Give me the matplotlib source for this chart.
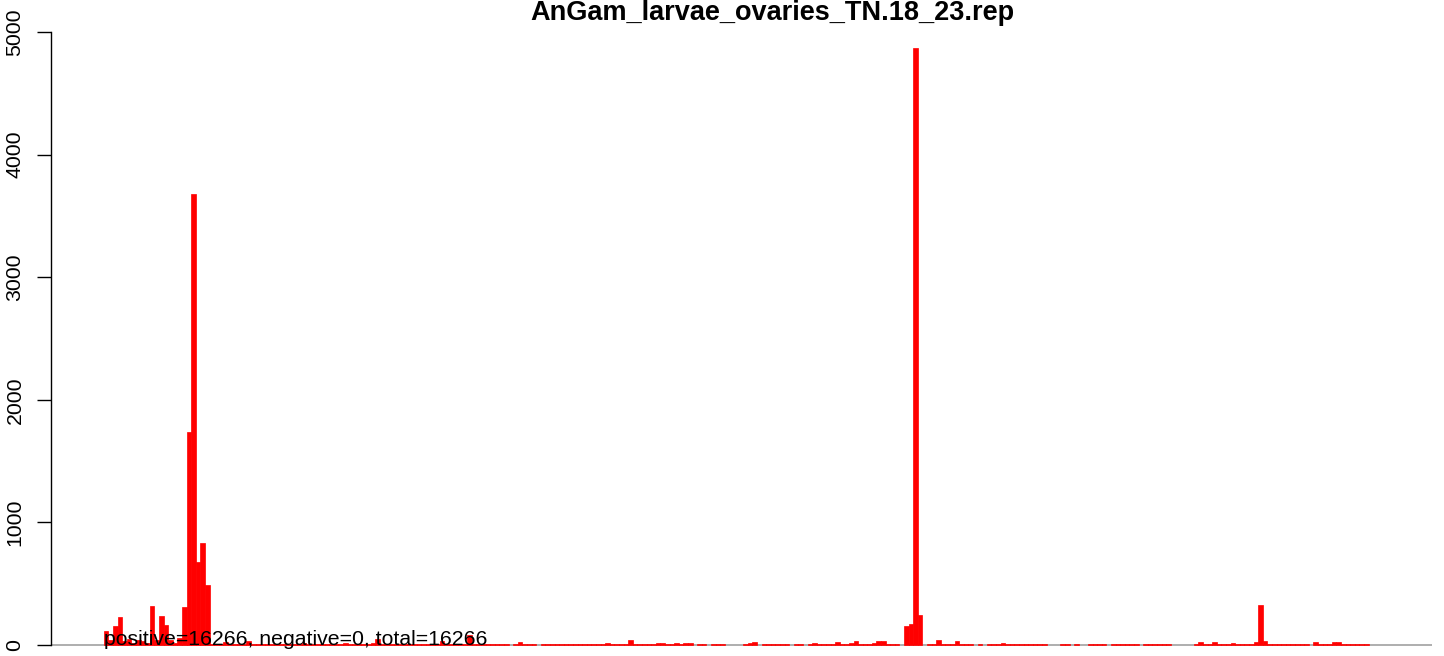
import matplotlib
matplotlib.use("Agg")
import matplotlib.pyplot as plt

plt.rcParams['font.family'] = ['Liberation Sans', 'DejaVu Sans']

title = "AnGam_larvae_ovaries_TN.18_23.rep"
note = "positive=16266, negative=0, total=16266"

# counts per bin (0 = empty bin, baseline shows grey)
counts = [
    115, 40, 155, 228, 30, 50, 20, 40, 30, 20, 318, 40, 237, 163, 40, 20, 60, 310, 1740, 3680,
    675, 830, 490, 10, 10, 10, 25, 10, 10, 10, 10, 35, 10, 10, 10, 10, 10, 10, 10, 10,
    10, 10, 10, 15, 10, 10, 10, 10, 10, 10, 10, 10, 20, 10, 10, 10, 10, 10, 20, 45,
    10, 10, 10, 10, 10, 10, 10, 10, 10, 10, 10, 10, 10, 30, 10, 10, 10, 10, 10, 80,
    10, 10, 10, 10, 10, 10, 10, 10, 0, 10, 27, 10, 10, 10, 0, 10, 10, 10, 10, 10,
    10, 10, 10, 10, 10, 10, 10, 10, 10, 20, 10, 10, 10, 10, 40, 10, 10, 10, 10, 10,
    18, 18, 10, 10, 18, 10, 18, 18, 0, 10, 10, 0, 10, 10, 10, 0, 0, 0, 0, 10,
    19, 27, 0, 10, 10, 10, 10, 10, 10, 0, 10, 10, 0, 10, 19, 10, 10, 10, 10, 27,
    10, 10, 19, 35, 10, 10, 10, 19, 35, 35, 10, 10, 10, 0, 158, 172, 4870, 246, 0, 10,
    10, 43, 10, 10, 10, 34, 10, 10, 10, 0, 10, 0, 10, 10, 10, 17, 10, 10, 10, 10,
    10, 10, 10, 10, 10, 0, 0, 0, 10, 10, 0, 10, 0, 0, 10, 10, 10, 10, 0, 10,
    10, 10, 10, 10, 10, 0, 10, 10, 10, 10, 10, 10, 0, 0, 0, 0, 0, 10, 25, 10,
    10, 25, 10, 10, 10, 17, 10, 10, 10, 10, 25, 326, 33, 10, 10, 10, 10, 10, 10, 10,
    10, 10, 0, 25, 10, 10, 10, 25, 25, 10, 10, 10, 10, 10, 10, 0, 0, 0,
]
yticks = [0, 1000, 2000, 3000, 4000, 5000]

n = len(counts)
fig = plt.figure(figsize=(14.44, 6.56), dpi=100)
ax = fig.add_axes([51 / 1444, 0, (1432 - 51) / 1444, (656 - 20) / 656])

ax.axhline(0, color='#a8a8a8', lw=1.3, zorder=0.5)
edges = ['red' if v > 0 else 'none' for v in counts]
ax.bar(range(n), counts, width=1.0, align='edge', color='red',
       edgecolor=edges, linewidth=0.5, zorder=2)

ax.set_xlim(-0.04 * n - 0.35, 1.04 * n - 0.35)
ax.set_ylim(-89.7, 5098)

ax.set_xticks([])
ax.set_yticks(yticks)
ax.set_yticklabels([str(t) for t in yticks], rotation=90, va='center')
ax.tick_params(axis='y', length=10, width=1, pad=9, labelsize=15.3, colors='black')
for s in ['top', 'right', 'bottom']:
    ax.spines[s].set_visible(False)
ax.spines['left'].set_bounds(0, 5000)
ax.spines['left'].set_linewidth(1)

ax.text(0, 0, note, ha='left', va='baseline', fontsize=15.3, zorder=3)
fig.text(772 / 1444, 1 - 20 / 656, title, ha='center', va='baseline',
         fontsize=19.5, fontweight='bold')

plt.savefig("out.png", dpi=100)
